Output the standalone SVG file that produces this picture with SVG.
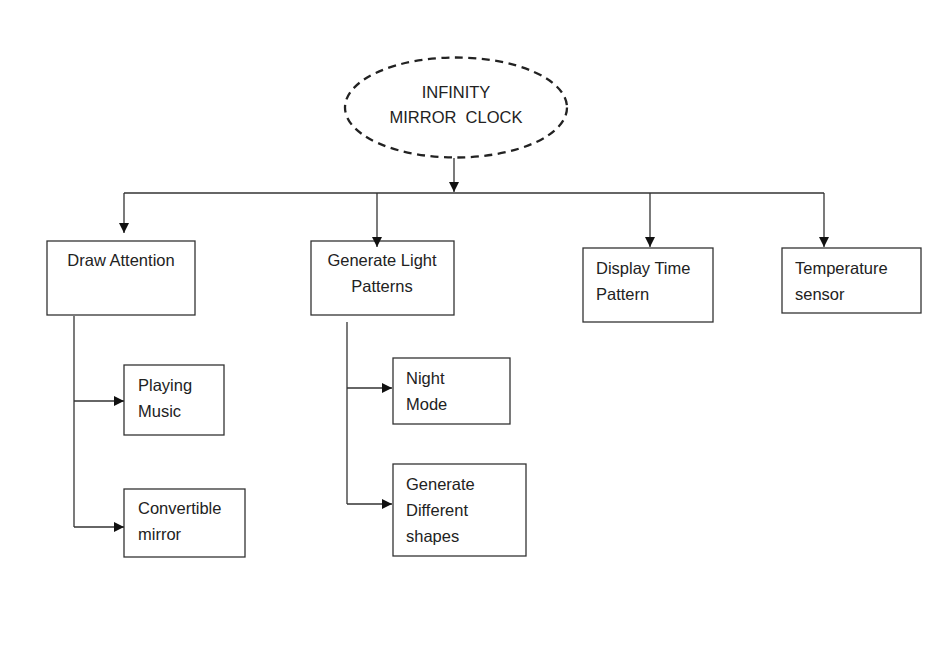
<svg xmlns="http://www.w3.org/2000/svg" width="946" height="662" viewBox="0 0 946 662">
<style>
.box{fill:#fff;stroke:#333;stroke-width:1.3}
.t{font-family:"Liberation Sans",Arial,sans-serif;font-size:16.5px;fill:#222}
.c{text-anchor:middle}
.ln{fill:none;stroke:#333;stroke-width:1.3}
</style>
<defs>
<marker id="ah" viewBox="0 0 10 10" refX="10" refY="5" markerWidth="10" markerHeight="10" markerUnits="userSpaceOnUse" orient="auto">
<path d="M0,0 L10,5 L0,10 Z" fill="#111"/>
</marker>
</defs>
<rect width="946" height="662" fill="#fff"/>
<g id="root">
<ellipse cx="456" cy="107.5" rx="111" ry="50" fill="#fff" stroke="#222" stroke-width="2.3" stroke-dasharray="8 5.5"/>
<text class="t c" x="456" y="98">INFINITY</text>
<text class="t c" x="456" y="123" xml:space="preserve">MIRROR  CLOCK</text>
</g>
<g id="draw-attention">
<rect class="box" x="47" y="241" width="148" height="74"/>
<text class="t c" x="121" y="266">Draw Attention</text>
</g>
<g id="generate-light">
<rect class="box" x="311" y="241" width="143" height="74"/>
<text class="t c" x="382" y="266">Generate Light</text>
<text class="t c" x="382" y="292">Patterns</text>
</g>
<g id="display-time">
<rect class="box" x="583" y="248" width="130" height="74"/>
<text class="t" x="596" y="274">Display Time</text>
<text class="t" x="596" y="300">Pattern</text>
</g>
<g id="temperature">
<rect class="box" x="782" y="248" width="139" height="65"/>
<text class="t" x="795" y="274">Temperature</text>
<text class="t" x="795" y="300">sensor</text>
</g>
<g id="playing-music">
<rect class="box" x="124" y="365" width="100" height="70"/>
<text class="t" x="138" y="391">Playing</text>
<text class="t" x="138" y="417">Music</text>
</g>
<g id="convertible-mirror">
<rect class="box" x="124" y="489" width="121" height="68"/>
<text class="t" x="138" y="514">Convertible</text>
<text class="t" x="138" y="540">mirror</text>
</g>
<g id="night-mode">
<rect class="box" x="393" y="358" width="117" height="66"/>
<text class="t" x="406" y="384">Night</text>
<text class="t" x="406" y="410">Mode</text>
</g>
<g id="generate-shapes">
<rect class="box" x="393" y="464" width="133" height="92"/>
<text class="t" x="406" y="490">Generate</text>
<text class="t" x="406" y="516">Different</text>
<text class="t" x="406" y="542">shapes</text>
</g>
<g id="connectors">
<path class="ln" d="M454,158 V192" marker-end="url(#ah)"/>
<path class="ln" d="M124,193 H824"/>
<path class="ln" d="M124,193 V233" marker-end="url(#ah)"/>
<path class="ln" d="M377,193 V247" marker-end="url(#ah)"/>
<path class="ln" d="M650,193 V247" marker-end="url(#ah)"/>
<path class="ln" d="M824,193 V247" marker-end="url(#ah)"/>
<path class="ln" d="M74,316 V527"/>
<path class="ln" d="M74,401 H124" marker-end="url(#ah)"/>
<path class="ln" d="M74,527 H124" marker-end="url(#ah)"/>
<path class="ln" d="M347,322 V504"/>
<path class="ln" d="M347,388 H392" marker-end="url(#ah)"/>
<path class="ln" d="M347,504 H392" marker-end="url(#ah)"/>
</g>
</svg>
